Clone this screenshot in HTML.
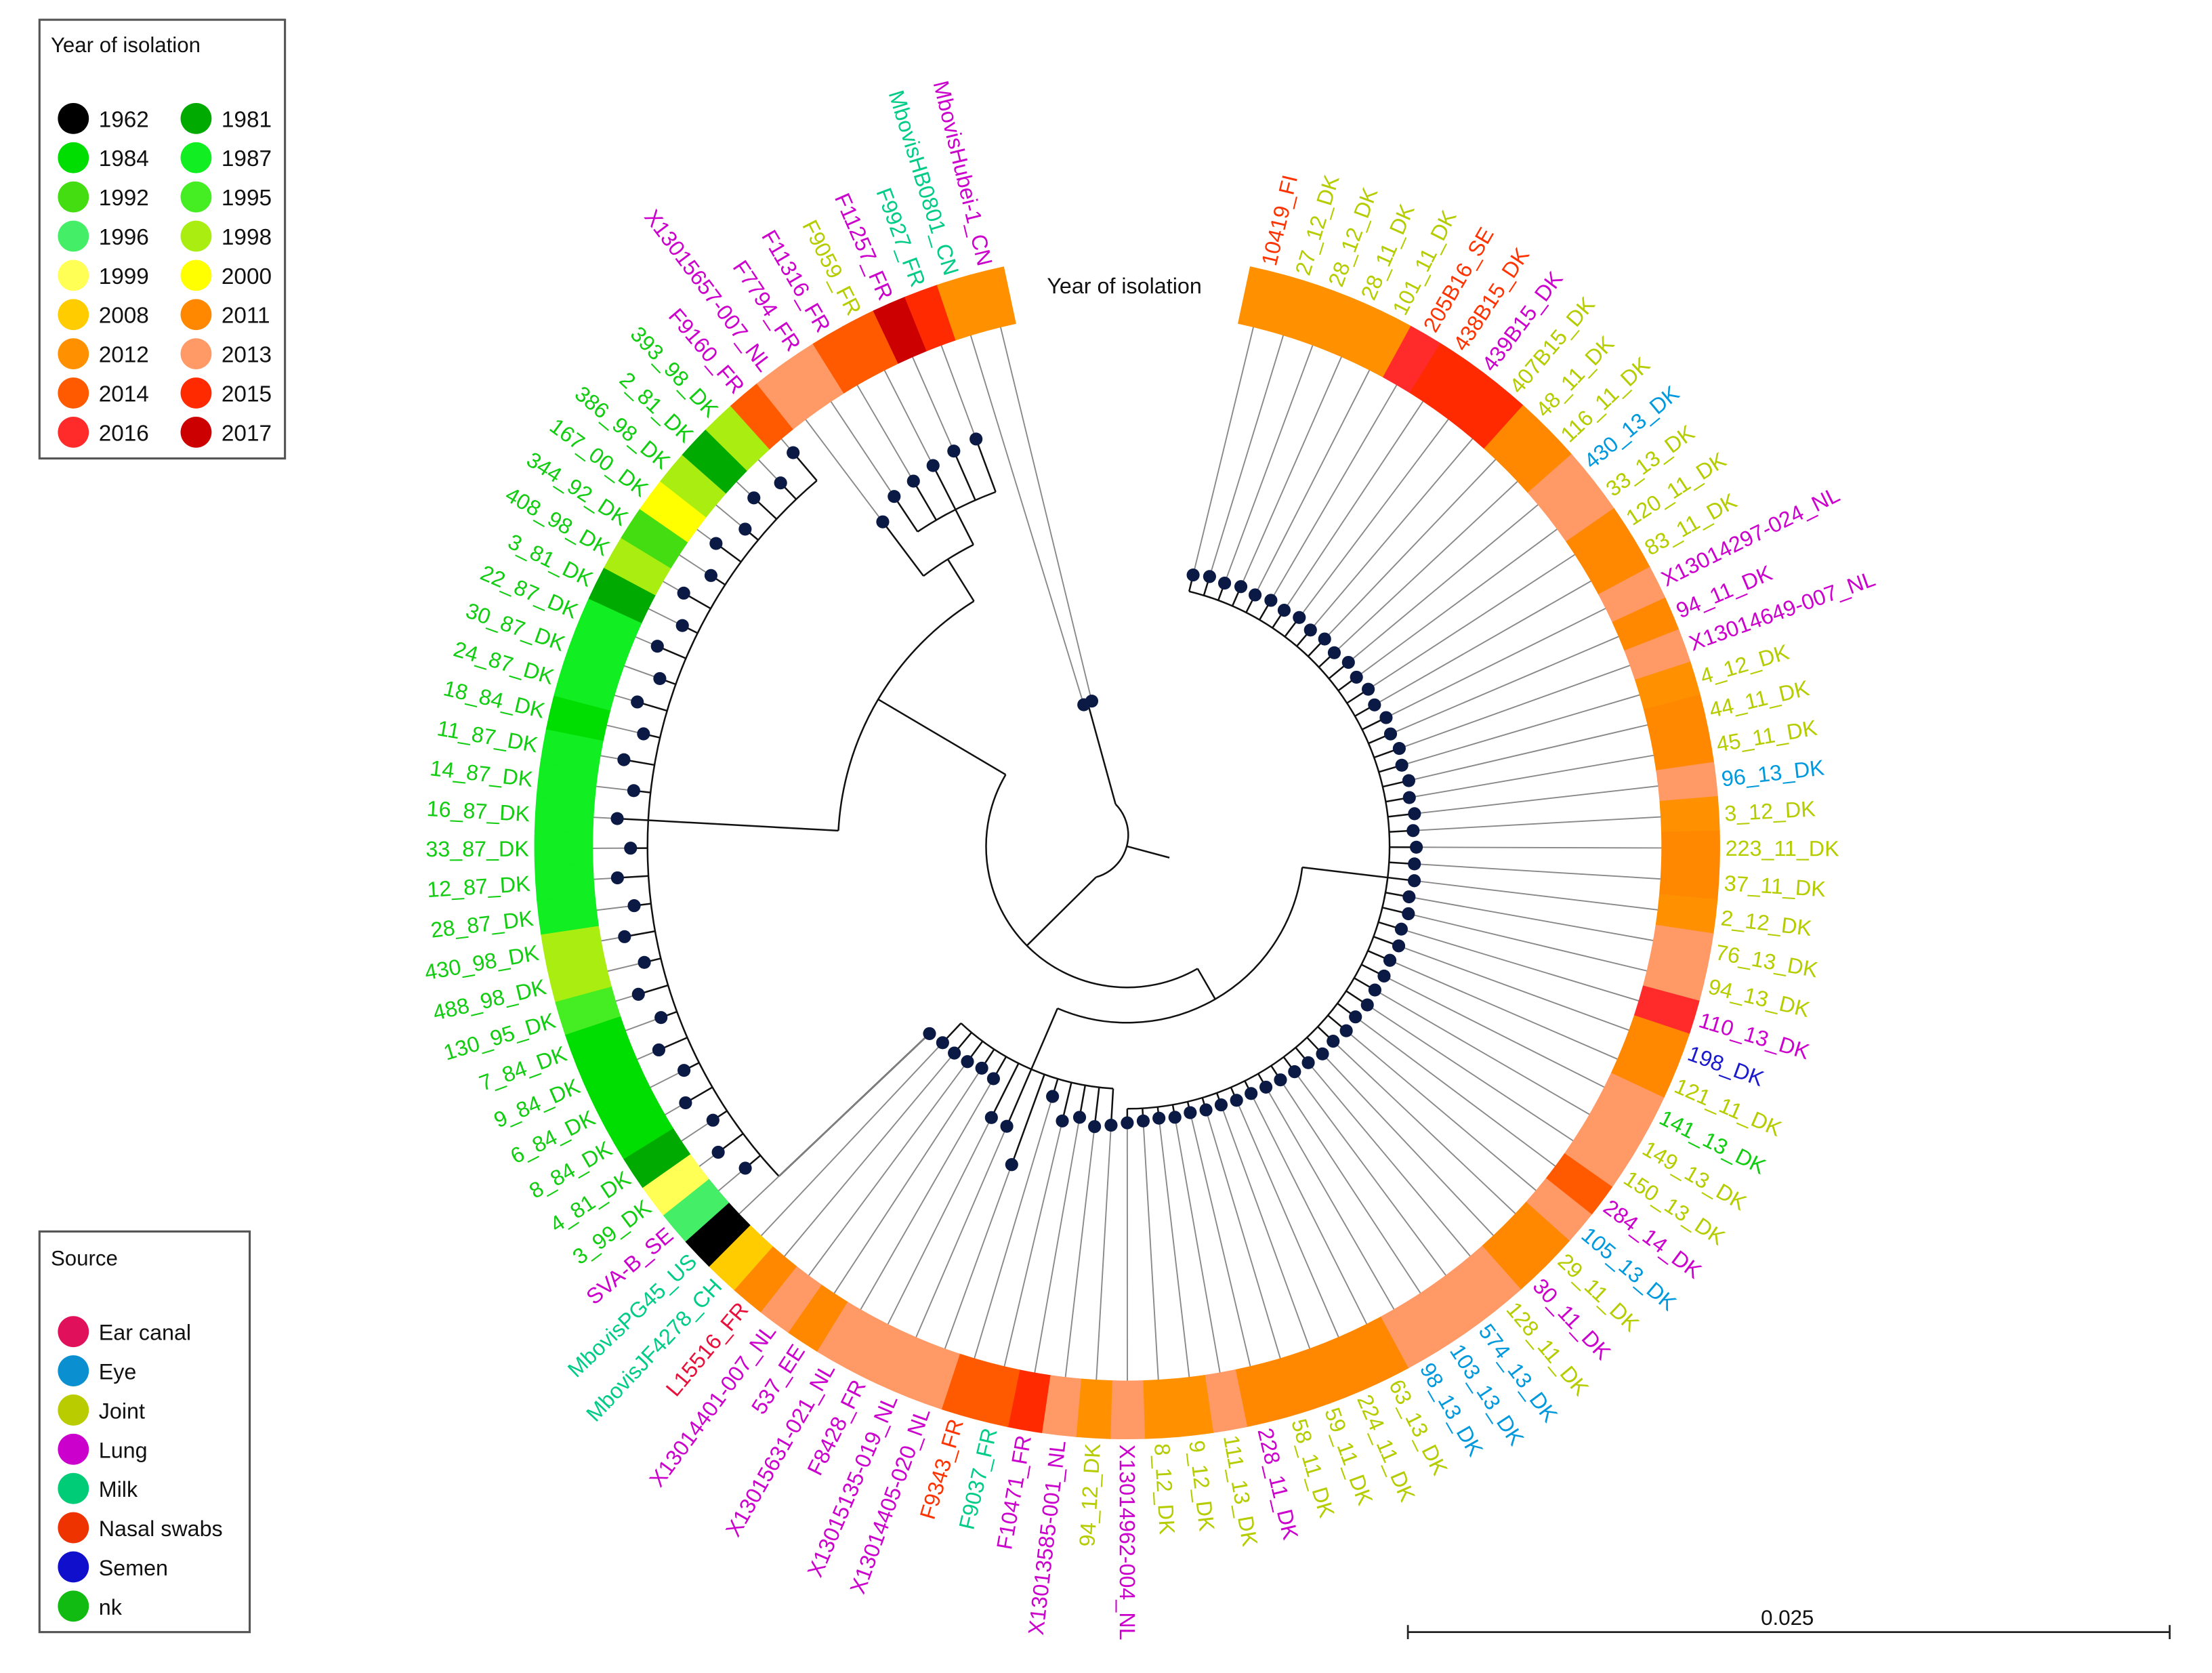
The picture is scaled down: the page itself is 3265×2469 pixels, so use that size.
<!DOCTYPE html>
<html><head><meta charset="utf-8"><style>
html,body{margin:0;padding:0;background:#fff;}
svg{display:block;font-family:"Liberation Sans",sans-serif;}
</style></head><body>
<svg id="chart" xmlns="http://www.w3.org/2000/svg" width="3265" height="2469" viewBox="0 0 1568 1186" preserveAspectRatio="none">
<rect x="0" y="0" width="1568" height="1186" fill="#fff"/>
<g id="tree"></g>
<g id="leaves"></g>
<g id="ring"></g>
<g id="labels"></g>
<text x="797" y="208" text-anchor="middle" font-size="15.5" fill="#111">Year of isolation</text>
<g>
<rect x="28" y="14" width="174" height="311" fill="#fff" stroke="#555" stroke-width="1.5"/>
<text x="36" y="37" font-size="15" fill="#111">Year of isolation</text>
<g id="yearLegend"></g>
</g>
<g>
<rect x="28" y="873" width="149" height="284" fill="#fff" stroke="#555" stroke-width="1.5"/>
<text x="36" y="897" font-size="15" fill="#111">Source</text>
<g id="srcLegend"></g>
</g>
<g>
<line x1="998" y1="1157" x2="1538" y2="1157" stroke="#222" stroke-width="1.3"/>
<line x1="998" y1="1152" x2="998" y2="1162" stroke="#222" stroke-width="1.3"/>
<line x1="1538" y1="1152" x2="1538" y2="1162" stroke="#222" stroke-width="1.3"/>
<text x="1267" y="1152" text-anchor="middle" font-size="15" fill="#111">0.025</text>
</g>
</svg>
<script>
const labels = ["10419_FI","27_12_DK","28_12_DK","28_11_DK","101_11_DK","205B16_SE","438B15_DK","439B15_DK","407B15_DK","48_11_DK","116_11_DK","430_13_DK","33_13_DK","120_11_DK","83_11_DK","X13014297-024_NL","94_11_DK","X13014649-007_NL","4_12_DK","44_11_DK","45_11_DK","96_13_DK","3_12_DK","223_11_DK","37_11_DK","2_12_DK","76_13_DK","94_13_DK","110_13_DK","198_DK","121_11_DK","141_13_DK","149_13_DK","150_13_DK","284_14_DK","105_13_DK","29_11_DK","30_11_DK","128_11_DK","574_13_DK","103_13_DK","98_13_DK","63_13_DK","224_11_DK","59_11_DK","58_11_DK","228_11_DK","111_13_DK","9_12_DK","8_12_DK","X13014962-004_NL","94_12_DK","X13013585-001_NL","F10471_FR","F9037_FR","F9343_FR","X13014405-020_NL","X13015135-019_NL","F8428_FR","X13015631-021_NL","537_EE","X13014401-007_NL","L15516_FR","MbovisJF4278_CH","MbovisPG45_US","SVA-B_SE","3_99_DK","4_81_DK","8_84_DK","6_84_DK","9_84_DK","7_84_DK","130_95_DK","488_98_DK","430_98_DK","28_87_DK","12_87_DK","33_87_DK","16_87_DK","14_87_DK","11_87_DK","18_84_DK","24_87_DK","30_87_DK","22_87_DK","3_81_DK","408_98_DK","344_92_DK","167_00_DK","386_98_DK","2_81_DK","393_98_DK","F9160_FR","X13015657-007_NL","F7794_FR","F11316_FR","F9059_FR","F11257_FR","F9927_FR","MbovisHB0801_CN","MbovisHubei-1_CN"];
const sources = ["N","J","J","J","J","N","N","L","J","J","J","E","J","J","J","L","L","L","J","J","J","E","J","J","J","J","J","J","L","S","J","K","J","J","L","E","J","L","J","E","E","E","J","J","J","J","L","J","J","J","L","J","L","L","M","N","L","L","L","L","L","L","C","M","M","L","K","K","K","K","K","K","K","K","K","K","K","K","K","K","K","K","K","K","K","K","K","K","K","K","K","K","L","L","L","L","J","L","M","M","L"];
const years = [2012,2012,2012,2012,2012,2016,2015,2015,2015,2011,2011,2013,2013,2011,2011,2013,2011,2013,2012,2011,2011,2013,2012,2011,2011,2012,2013,2013,2016,2011,2011,2013,2013,2013,2014,2013,2011,2011,2013,2013,2013,2013,2011,2011,2011,2011,2011,2013,2012,2012,2013,2012,2013,2015,2014,2014,2013,2013,2013,2013,2011,2013,2011,2008,1962,1996,1999,1981,1984,1984,1984,1984,1995,1998,1998,1987,1987,1987,1987,1987,1987,1984,1987,1987,1987,1981,1998,1992,2000,1998,1981,1998,2014,2013,2013,2014,2014,2017,2015,2012,2012];
const tipR = [198,200,199,201,200,202,201,203,201,203,201,204,202,204,202,205,203,205,203,205,203,205,203,205,204,205,203,205,203,205,203,204,203,204,202,203,201,202,200,199,198,197,196,196,195,195,194,195,194,195,196,198,200,195,200,185,240,216,215,190,188,190,191,191,193,354,362,352,362,352,362,352,362,352,362,352,362,352,362,352,362,352,362,352,362,352,362,352,362,352,362,356,366,288,298,300,303,306,308,105,106];
const yearList = [1962,1981,1984,1987,1992,1995,1996,1998,1999,2000,2008,2011,2012,2013,2014,2015,2016,2017];
const yearColors = ["#000000","#00aa00","#00dd00","#11ee22","#44dd11","#44ee22","#44ee66","#aaee11","#ffff55","#ffff00","#ffcc00","#ff8800","#ff9000","#ff9966","#ff5a00","#ff2a00","#ff2a2a","#cc0000"];
const srcCodes = ["C","E","J","L","M","N","S","K"];
const srcNames = ["Ear canal","Eye","Joint","Lung","Milk","Nasal swabs","Semen","nk"];
const srcColors = ["#e0105a","#0a8fd0","#b8cc00","#cc00cc","#00cc77","#ee3300","#1010cc","#11bb11"];
const labelColors = {C:"#e8103a",E:"#0099dd",J:"#b5cc00",L:"#cc00cc",M:"#00cc88",N:"#ff3300",S:"#1a1acc",K:"#11cc11"};

function range(a,b){const r=[];for(let i=a;i<=b;i++)r.push(i);return r;}
// tree topology with node distances from root
const tree = {r:31,c:[
  {r:105,c:[99,100]},
  {r:100,c:[
     {r:125,c:[{r:186,c:range(0,50)},{r:172,c:range(51,63)}]},
     {r:205,c:[{r:340,c:range(64,92)},{r:240,c:[93,{r:268,c:range(94,98)}]}]}
  ]}
]};

const NS="http://www.w3.org/2000/svg";
const cx=799, cy=600, ringIn=379, ringOut=420, labR=424;
const A0=13.66, STEP=(346.3-13.66)/(labels.length-1);
function ang(i){return A0+i*STEP;}
function pol(r,a){const t=a*Math.PI/180;return [cx+r*Math.sin(t), cy-r*Math.cos(t)];}
function mk(tag,attrs,parent){const e=document.createElementNS(NS,tag);for(const k in attrs)e.setAttribute(k,attrs[k]);parent.appendChild(e);return e;}
function arcPath(r,a1,a2){const p1=pol(r,a1),p2=pol(r,a2);const lg=(a2-a1)>180?1:0;return `M${p1[0]},${p1[1]} A${r},${r} 0 ${lg} 1 ${p2[0]},${p2[1]}`;}

const gT=document.getElementById('tree'), gL=document.getElementById('leaves'), gR=document.getElementById('ring'), gLab=document.getElementById('labels');

function nodeAngle(n){ if(typeof n==='number') return ang(n); const as=n.c.map(nodeAngle); return (as[0]+as[as.length-1])/2; }
function nodeR(n){ return typeof n==='number'? tipR[n] : n.r; }
function drawNode(n){
  if(typeof n==='number') return;
  const as=n.c.map(nodeAngle);
  const p=mk('path',{d:arcPath(n.r,as[0],as[as.length-1]),fill:'none',stroke:'#111','stroke-width':1.2},gT);
  
  
  n.c.forEach((ch,k)=>{
    const a=as[k], p1=pol(n.r,a), p2=pol(nodeR(ch),a);
    const l=mk('line',{x1:p1[0],y1:p1[1],x2:p2[0],y2:p2[1],stroke:'#111','stroke-width':1.2},gT);
    
    
    drawNode(ch);
  });
}
drawNode(tree);
// root stub
(function(){const a=nodeAngle(tree)+180;const p=pol(tree.r,a);const l=mk('line',{x1:cx,y1:cy,x2:p[0],y2:p[1],stroke:'#111','stroke-width':1.2},gT);

})();

labels.forEach((lab,i)=>{
  const a=ang(i);
  const t=pol(tipR[i],a), q=pol(ringIn,a);
  const ln=mk('line',{x1:t[0],y1:t[1],x2:q[0],y2:q[1],stroke:'#888','stroke-width':0.9},gL);
  
  
  const d=mk('circle',{cx:t[0],cy:t[1],r:4.6,fill:'#0b1a45'},gL);
  
  
  // ring sector
  const a1=a-STEP/2, a2=a+STEP/2;
  const o1=pol(ringOut,a1),o2=pol(ringOut,a2),i2=pol(ringIn,a2),i1=pol(ringIn,a1);
  const col=yearColors[yearList.indexOf(years[i])];
  const s=mk('path',{d:`M${o1[0]},${o1[1]} A${ringOut},${ringOut} 0 0 1 ${o2[0]},${o2[1]} L${i2[0]},${i2[1]} A${ringIn},${ringIn} 0 0 0 ${i1[0]},${i1[1]} Z`,fill:col,stroke:col,'stroke-width':0.6},gR);
  
  
  // label
  const p=pol(labR,a);
  const right=a<180;
  const tx=mk('text',{x:p[0],y:p[1],dy:'0.35em','font-size':15.5,fill:labelColors[sources[i]],'text-anchor':right?'start':'end',transform:`rotate(${right?a-90:a+90} ${p[0]} ${p[1]})`},gLab);
  tx.textContent=lab;
  
  
});

const gY=document.getElementById('yearLegend');
yearList.forEach((y,k)=>{
  const col=k%2, row=Math.floor(k/2);
  const x=52+col*87, yy=84+row*27.8;
  const c=mk('circle',{cx:x,cy:yy,r:11,fill:yearColors[k]},gY);
  
  
  const t=mk('text',{x:x+18,y:yy+6,'font-size':16,fill:'#111'},gY);
  t.textContent=y;
  
  
});
const gS=document.getElementById('srcLegend');
srcNames.forEach((nm,k)=>{
  const yy=944+k*27.8;
  const c=mk('circle',{cx:52,cy:yy,r:11,fill:srcColors[k]},gS);
  
  
  const t=mk('text',{x:70,y:yy+6,'font-size':15.5,fill:'#111'},gS);
  t.textContent=nm;
  
  
});
</script>
</body></html>
